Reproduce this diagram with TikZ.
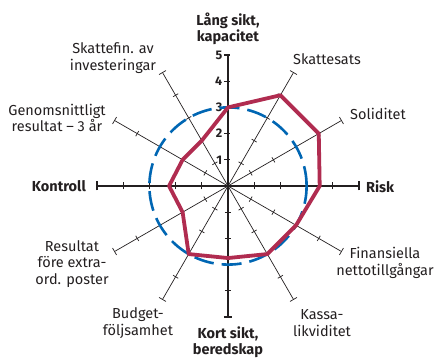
\documentclass[tikz,border=0pt]{standalone}
\usepackage{fontspec}
\setmainfont{Fira Sans}
\usepackage{xcolor}
\usepackage{tikz}

\definecolor{radarred}{RGB}{176,44,80}
\definecolor{radarblue}{RGB}{0,102,179}
\definecolor{inktext}{RGB}{35,31,32}

\tikzset{
  axisline/.style={line width=0.7pt, inktext},
  mainaxis/.style={line width=1.1pt, inktext},
  lbl/.style={align=center, inner sep=0pt, text=inktext, font=\fontsize{14.5}{16.5}\selectfont},
  boldlbl/.style={align=center, inner sep=0pt, text=inktext, font=\fontsize{14.5}{16.5}\selectfont\bfseries},
  numlbl/.style={anchor=east, inner sep=0.5pt, text=inktext, font=\fontsize{12.5}{13}\selectfont\bfseries}
}

\begin{document}
\begin{tikzpicture}[x=26.2pt,y=26.2pt]
\useasboundingbox (-228pt,-175pt) rectangle (211pt,186pt);

% thin axes, one every 30 degrees
\foreach \a in {60,30,-30,-60,-120,-150,150,120} {
  \draw[axisline, rotate=\a] (0,0) -- (5,0);
  \draw[axisline, rotate=\a] (5,-4pt) -- (5,4pt);
  \foreach \k in {1,...,4}
    \draw[axisline, rotate=\a] (\k,-3pt) -- (\k,3pt);
}

% main axes
\draw[mainaxis] (-5,0) -- (5,0);
\draw[mainaxis] (0,-5) -- (0,5);
\draw[mainaxis] (5,-4.5pt) -- (5,4.5pt);
\draw[mainaxis] (-5,-4.5pt) -- (-5,4.5pt);
\draw[mainaxis] (-4pt,-5) -- (4pt,-5);
\draw[mainaxis] (-4pt,5) -- (2pt,5);
\foreach \k in {1,...,4} {
  \draw[mainaxis] (\k,-3.5pt) -- (\k,3.5pt);
  \draw[mainaxis] (-\k,-3.5pt) -- (-\k,3.5pt);
  \draw[mainaxis] (-4pt,\k) -- (2pt,\k);
  \draw[mainaxis] (-3pt,-\k) -- (3pt,-\k);
}

% scale
\foreach \k in {1,...,5}
  \node[numlbl] (num\k) at (-5pt,\k) {\k};

% reference level
\draw[radarblue, line width=2.6pt, dash pattern=on 20pt off 8pt] (0,0) circle (3);

% values
\draw[radarred, line width=3.8pt, line join=round]
  (90:3) -- (60:4) -- (30:4) -- (0:3.5) -- (-30:3) -- (-60:3) -- (-90:2.75)
  -- (-120:3) -- (-150:2) -- (180:2.25) -- (150:2) -- (120:2) -- cycle;

% labels
\node[boldlbl] (lang) at (0pt,157pt) {Lång sikt,\\kapacitet};
\node[lbl] (skattesats) at (99pt,127pt) {Skattesats};
\node[lbl] (soliditet) at (150pt,72pt) {Soliditet};
\node[boldlbl, anchor=west] (risk) at (138pt,-1pt) {Risk};
\node[lbl] (finans) at (157pt,-77pt) {Finansiella\\nettotillgångar};
\node[lbl] (kassa) at (94pt,-137pt) {Kassa-\\likviditet};
\node[boldlbl] (kort) at (0pt,-156pt) {Kort sikt,\\beredskap};
\node[lbl] (budget) at (-90pt,-137pt) {Budget-\\följsamhet};
\node[lbl] (resultat) at (-156pt,-78pt) {Resultat\\före extra-\\ord. poster};
\node[boldlbl, anchor=east] (kontroll) at (-142pt,0pt) {Kontroll};
\node[lbl] (genomsnitt) at (-171pt,68pt) {Genomsnittligt\\resultat -- 3 år};
\node[lbl] (skattefin) at (-115pt,128pt) {Skattefin. av\\investeringar};
\end{tikzpicture}
\end{document}
